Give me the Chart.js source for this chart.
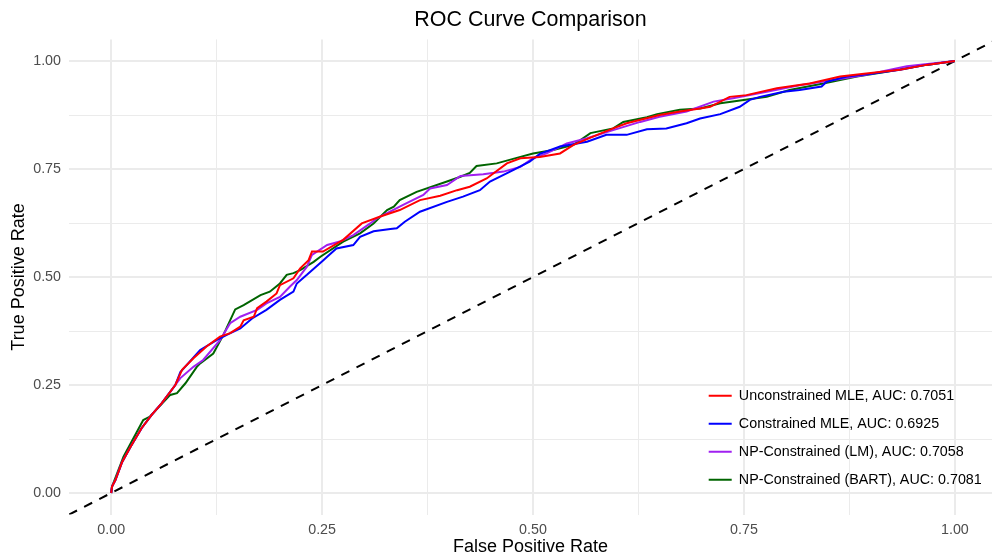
<!DOCTYPE html>
<html>
<head>
<meta charset="utf-8">
<title>ROC Curve Comparison</title>
<script src="https://cdn.jsdelivr.net/npm/chart.js@4.4.1/dist/chart.umd.min.js"></script>
<style>
  html, body { margin: 0; padding: 0; background: #fff; overflow: hidden; }
  canvas { display: block; }
</style>
</head>
<body>
<canvas id="roc" width="992" height="558"></canvas>
<script>
// FPR / TPR pairs
const unconstrainedFpr = [0, 0.001, 0.005, 0.013, 0.023, 0.036, 0.048, 0.060, 0.076, 0.084, 0.0975, 0.113, 0.129, 0.141, 0.153, 0.157, 0.169, 0.173, 0.184, 0.196, 0.200, 0.216, 0.224, 0.234, 0.238, 0.251, 0.275, 0.297, 0.319, 0.342, 0.366, 0.390, 0.410, 0.425, 0.445, 0.469, 0.485, 0.508, 0.532, 0.548, 0.571, 0.595, 0.611, 0.650, 0.674, 0.698, 0.710, 0.733, 0.753, 0.789, 0.828, 0.864, 0.895, 0.935, 0.966, 1];
const unconstrainedTpr = [0, 0.015, 0.030, 0.072, 0.107, 0.150, 0.181, 0.208, 0.250, 0.285, 0.312, 0.339, 0.362, 0.370, 0.385, 0.400, 0.408, 0.428, 0.443, 0.462, 0.481, 0.497, 0.520, 0.539, 0.559, 0.559, 0.586, 0.624, 0.640, 0.655, 0.678, 0.688, 0.701, 0.709, 0.728, 0.763, 0.775, 0.778, 0.786, 0.806, 0.825, 0.844, 0.856, 0.875, 0.883, 0.890, 0.894, 0.917, 0.921, 0.937, 0.948, 0.964, 0.971, 0.980, 0.991, 1];

const constrainedFpr = [0, 0.001, 0.005, 0.013, 0.023, 0.036, 0.048, 0.060, 0.076, 0.082, 0.1055, 0.125, 0.137, 0.153, 0.167, 0.184, 0.200, 0.216, 0.220, 0.232, 0.2515, 0.256, 0.267, 0.287, 0.295, 0.311, 0.331, 0.3385, 0.348, 0.366, 0.398, 0.417, 0.437, 0.449, 0.477, 0.496, 0.508, 0.532, 0.564, 0.587, 0.611, 0.635, 0.658, 0.682, 0.698, 0.722, 0.745, 0.757, 0.769, 0.797, 0.816, 0.842, 0.848, 0.872, 0.903, 0.935, 0.966, 1];
const constrainedTpr = [0, 0.015, 0.030, 0.072, 0.107, 0.150, 0.181, 0.208, 0.250, 0.280, 0.331, 0.354, 0.366, 0.381, 0.404, 0.424, 0.447, 0.466, 0.485, 0.505, 0.539, 0.547, 0.566, 0.574, 0.593, 0.606, 0.611, 0.613, 0.628, 0.651, 0.674, 0.686, 0.701, 0.721, 0.748, 0.767, 0.785, 0.802, 0.813, 0.829, 0.829, 0.842, 0.844, 0.856, 0.867, 0.877, 0.894, 0.910, 0.917, 0.929, 0.933, 0.941, 0.952, 0.964, 0.971, 0.980, 0.991, 1];

const npLmFpr = [0, 0.001, 0.005, 0.013, 0.023, 0.036, 0.048, 0.060, 0.076, 0.082, 0.0975, 0.109, 0.129, 0.141, 0.153, 0.173, 0.184, 0.200, 0.212, 0.220, 0.232, 0.238, 0.256, 0.271, 0.287, 0.307, 0.315, 0.346, 0.370, 0.378, 0.398, 0.414, 0.441, 0.465, 0.485, 0.500, 0.516, 0.540, 0.564, 0.595, 0.627, 0.650, 0.682, 0.714, 0.737, 0.777, 0.816, 0.856, 0.895, 0.943, 1];
const npLmTpr = [0, 0.015, 0.030, 0.072, 0.107, 0.150, 0.181, 0.208, 0.250, 0.266, 0.292, 0.308, 0.354, 0.393, 0.408, 0.424, 0.439, 0.454, 0.478, 0.493, 0.524, 0.551, 0.574, 0.582, 0.597, 0.624, 0.636, 0.667, 0.690, 0.705, 0.713, 0.734, 0.738, 0.744, 0.755, 0.775, 0.786, 0.809, 0.821, 0.840, 0.859, 0.871, 0.883, 0.906, 0.914, 0.929, 0.944, 0.956, 0.968, 0.988, 1];

const npBartFpr = [0, 0.001, 0.005, 0.0146, 0.038, 0.046, 0.070, 0.078, 0.088, 0.1015, 0.1055, 0.121, 0.133, 0.147, 0.157, 0.177, 0.188, 0.200, 0.208, 0.216, 0.224, 0.240, 0.248, 0.275, 0.295, 0.311, 0.327, 0.335, 0.342, 0.362, 0.398, 0.414, 0.425, 0.433, 0.457, 0.485, 0.500, 0.524, 0.548, 0.568, 0.595, 0.607, 0.635, 0.647, 0.674, 0.698, 0.722, 0.737, 0.777, 0.804, 0.844, 0.884, 0.919, 0.966, 1];
const npBartTpr = [0, 0.015, 0.035, 0.084, 0.169, 0.177, 0.227, 0.231, 0.254, 0.292, 0.300, 0.323, 0.366, 0.425, 0.435, 0.458, 0.466, 0.485, 0.505, 0.509, 0.516, 0.535, 0.547, 0.582, 0.601, 0.624, 0.655, 0.663, 0.678, 0.697, 0.721, 0.732, 0.741, 0.757, 0.763, 0.778, 0.786, 0.794, 0.806, 0.833, 0.844, 0.859, 0.870, 0.877, 0.887, 0.890, 0.902, 0.906, 0.917, 0.933, 0.948, 0.964, 0.975, 0.991, 1];

// reference diagonal (random classifier)
const chanceFpr = [-0.05, 1.05];
const chanceTpr = [-0.05, 1.05];

const seriesLabels = [
  'Unconstrained MLE, AUC: 0.7051',
  'Constrained MLE, AUC: 0.6925',
  'NP-Constrained (LM), AUC: 0.7058',
  'NP-Constrained (BART), AUC: 0.7081'
];
const seriesColors = ['#ff0000', '#0000ff', '#a020f0', '#006400'];

const tickValues = [0, 0.125, 0.25, 0.375, 0.5, 0.625, 0.75, 0.875, 1];
const tickLabels = ['0.00', '', '0.25', '', '0.50', '', '0.75', '', '1.00'];

const FONT = 'Liberation Sans, Arial, Helvetica, sans-serif';
Chart.defaults.font.family = FONT;

const toPoints = (xs, ys) => xs.map((x, i) => ({ x: x, y: ys[i] }));

const curve = (i, fpr, tpr) => ({
  label: seriesLabels[i],
  data: toPoints(fpr, tpr),
  borderColor: seriesColors[i],
  backgroundColor: seriesColors[i],
  borderWidth: 2,
  pointRadius: 0,
  pointStyle: 'line',
  tension: 0,
  order: i + 1
});

// grid shared by both axes: major lines thicker, minor lines thinner
const grid = {
  color: '#ebebeb',
  lineWidth: ctx => (tickLabels[ctx.index] ? 2 : 1),
  drawTicks: false,
  z: -1
};

// put the legend inside the panel, bottom right
const legendPlacer = {
  id: 'legendPlacer',
  beforeDraw(chart) {
    const lg = chart.legend;
    lg.left = 695;
    lg.top = 375;
    lg.right = lg.left + lg.width;
    lg.bottom = lg.top + 200;
  }
};

new Chart(document.getElementById('roc'), {
  type: 'line',
  data: {
    datasets: [
      curve(0, unconstrainedFpr, unconstrainedTpr),
      curve(1, constrainedFpr, constrainedTpr),
      curve(2, npLmFpr, npLmTpr),
      curve(3, npBartFpr, npBartTpr),
      {
        label: 'chance',
        data: toPoints(chanceFpr, chanceTpr),
        borderColor: '#000000',
        borderWidth: 2,
        borderDash: [9, 8],
        pointRadius: 0,
        order: 5
      }
    ]
  },
  options: {
    responsive: false,
    devicePixelRatio: 1,
    animation: false,
    layout: { padding: 0 },
    plugins: {
      tooltip: { enabled: false },
      title: {
        display: true,
        text: 'ROC Curve Comparison',
        color: '#000000',
        fullSize: false,
        font: { size: 21.45, weight: 'normal' },
        padding: { top: 7.5, bottom: 6.16 }
      },
      legend: {
        position: 'chartArea',
        align: 'start',
        labels: {
          usePointStyle: true,
          pointStyleWidth: 23,
          padding: 13.7,
          color: '#000000',
          font: { size: 14.3 },
          filter: item => item.datasetIndex < 4
        }
      }
    },
    scales: {
      x: {
        type: 'linear',
        min: -0.05,
        max: 1.044,
        afterBuildTicks: s => { s.ticks = tickValues.map(v => ({ value: v })); },
        afterFit: s => { s.height = 43.4; },
        grid: grid,
        border: { display: false },
        ticks: {
          autoSkip: false,
          maxRotation: 0,
          padding: 7,
          color: '#4d4d4d',
          font: { size: 14.3 },
          callback: (v, i) => tickLabels[i]
        },
        title: {
          display: true,
          text: 'False Positive Rate',
          color: '#000000',
          font: { size: 18 },
          padding: { top: -2.5, bottom: 0 }
        }
      },
      y: {
        type: 'linear',
        min: -0.05,
        max: 1.05,
        afterBuildTicks: s => { s.ticks = tickValues.map(v => ({ value: v })); },
        afterFit: s => { s.width = 69; },
        grid: grid,
        border: { display: false },
        ticks: {
          autoSkip: false,
          padding: 8,
          color: '#4d4d4d',
          font: { size: 14.3 },
          callback: (v, i) => tickLabels[i]
        },
        title: {
          display: true,
          text: 'True Positive Rate',
          color: '#000000',
          font: { size: 18 },
          padding: { top: 8, bottom: 0 }
        }
      }
    }
  },
  plugins: [legendPlacer]
});
</script>
</body>
</html>
